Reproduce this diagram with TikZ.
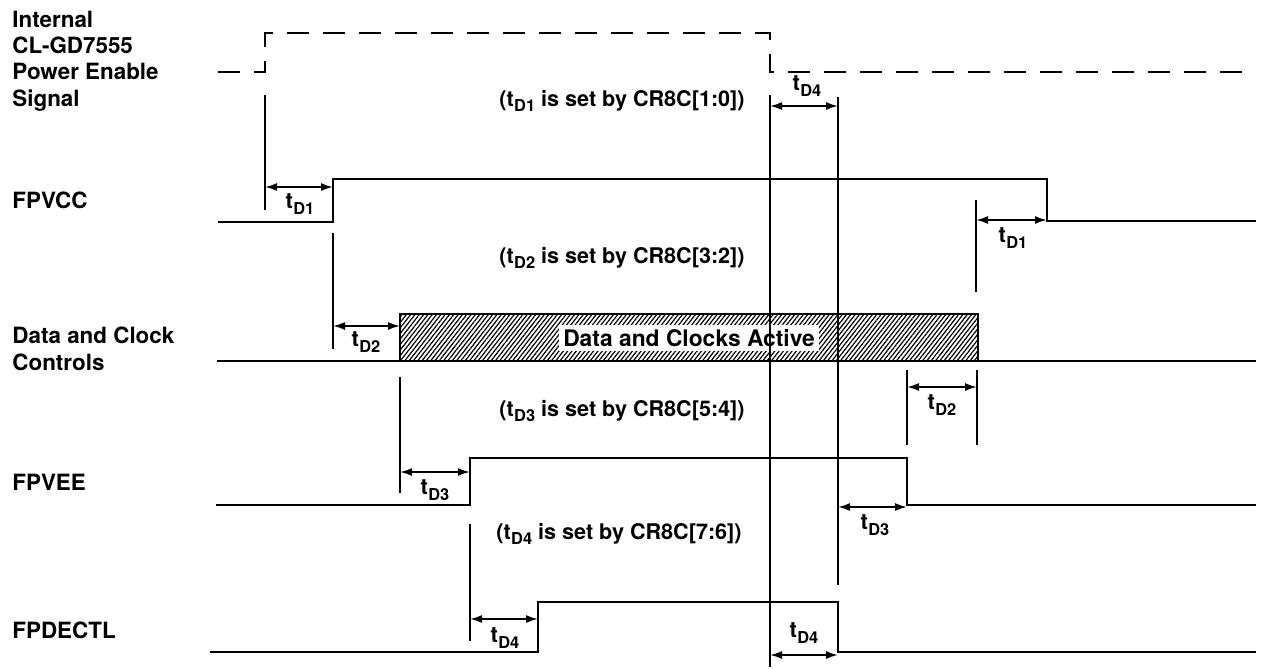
\documentclass[tikz,border=0pt]{standalone}
\usepackage{fontspec}
\setmainfont{TeX Gyre Heros}
\usetikzlibrary{arrows.meta,patterns.meta}
\newcommand{\tdl}[1]{t\kern0.2pt\raisebox{-0.5ex}{\fontsize{8.2}{9}\selectfont D#1}}
\tikzset{
  sig/.style={line width=1.2pt},
  refl/.style={line width=0.75pt},
  dimarrow/.style={line width=0.9pt,{Latex[length=6pt,width=4pt]}-{Latex[length=6pt,width=4pt]}},
  lbl/.style={font=\fontsize{11.2}{13.2}\selectfont\bfseries, align=left, anchor=west, inner sep=0pt},
  note/.style={font=\fontsize{10.8}{12}\selectfont\bfseries, inner sep=0pt},
  tlab/.style={font=\fontsize{11}{12}\selectfont\bfseries, inner sep=0pt},
}
\begin{document}
\begin{tikzpicture}[x=0.5pt,y=-0.5pt]
\useasboundingbox (0,0) rectangle (1262,669);

% signal names
\node[lbl] (nPE) at (12,61) {Internal\\CL-GD7555\\Power Enable\\Signal};
\node[lbl] (nVCC) at (12,200) {FPVCC};
\node[lbl] (nDC) at (12,349) {Data and Clock\\Controls};
\node[lbl] (nVEE) at (12,482) {FPVEE};
\node[lbl] (nDE) at (12,630) {FPDECTL};

% power enable (dashed)
\draw[line width=1.2pt, dash pattern=on 11pt off 7pt]
  (218,72) -- (265,72) -- (265,33) -- (770,33) -- (770,72) -- (1254,72);

% FPVCC
\draw[sig] (218,222) -- (333,222) -- (333,179) -- (1047,179) -- (1047,221) -- (1256,221);

% Data and clocks
\draw[sig, pattern={Lines[angle=52,distance=1.7pt,line width=0.6pt]}]
  (400,361) rectangle (978,314);
\node[tlab, font=\fontsize{11.4}{12}\selectfont\bfseries, fill=white, inner xsep=2pt, inner ysep=2pt] (dca) at (689,338) {Data and Clocks Active};
\draw[sig] (217,361) -- (1256,361);

% FPVEE
\draw[sig] (216,505) -- (470,505) -- (470,458) -- (907,458) -- (907,505) -- (1256,505);

% FPDECTL
\draw[sig] (210,652) -- (538,652) -- (538,602) -- (838,602) -- (838,652) -- (1256,652);

% reference lines
\coordinate (a1) at (265,95);  \coordinate (a2) at (265,210);
\coordinate (b1) at (770,95);  \coordinate (b2) at (770,667);
\coordinate (c1) at (838,97);  \coordinate (c2) at (838,585);
\coordinate (d1) at (976,200); \coordinate (d2) at (976,292);
\coordinate (e1) at (333,233); \coordinate (e2) at (333,349);
\coordinate (f1) at (907,370); \coordinate (f2) at (907,445);
\coordinate (g1) at (977,370); \coordinate (g2) at (977,445);
\coordinate (h1) at (400,377); \coordinate (h2) at (400,493);
\coordinate (i1) at (470,524); \coordinate (i2) at (470,641);
\foreach \p in {a,b,c,d,e,f,g,h,i} \draw[refl] (\p1) -- (\p2);

% dimension arrows
\coordinate (p1) at (265,187);  \coordinate (p2) at (333,187);
\draw[dimarrow] (p1) -- (p2);
\node[tlab] (l1) at (300,204) {\tdl{1}};

\coordinate (q1) at (976,220);  \coordinate (q2) at (1047,220);
\draw[dimarrow] (q1) -- (q2);
\node[tlab] (l2) at (1013,238) {\tdl{1}};

\coordinate (r1) at (333,326);  \coordinate (r2) at (400,326);
\draw[dimarrow] (r1) -- (r2);
\node[tlab] (l3) at (366,342) {\tdl{2}};

\coordinate (s1) at (907,387);  \coordinate (s2) at (977,387);
\draw[dimarrow] (s1) -- (s2);
\node[tlab] (l4) at (942,405) {\tdl{2}};

\coordinate (u1) at (400,472);  \coordinate (u2) at (470,472);
\draw[dimarrow] (u1) -- (u2);
\node[tlab] (l5) at (435,490) {\tdl{3}};

\coordinate (v1) at (838,507);  \coordinate (v2) at (907,507);
\draw[dimarrow] (v1) -- (v2);
\node[tlab] (l6) at (875,525) {\tdl{3}};

\coordinate (w1) at (470,619);  \coordinate (w2) at (538,619);
\draw[dimarrow] (w1) -- (w2);
\node[tlab] (l7) at (505,638) {\tdl{4}};

\coordinate (x1) at (770,655);  \coordinate (x2) at (838,655);
\draw[dimarrow] (x1) -- (x2);
\node[tlab] (l8) at (804,633) {\tdl{4}};

\coordinate (y1) at (770,106);  \coordinate (y2) at (838,106);
\draw[dimarrow] (y1) -- (y2);
\node[tlab] (l9) at (807,86) {\tdl{4}};

% notes
\node[note] (n1) at (622,101) {(\tdl{1} is set by CR8C[1:0])};
\node[note] (n2) at (622,258) {(\tdl{2} is set by CR8C[3:2])};
\node[note] (n3) at (622,411) {(\tdl{3} is set by CR8C[5:4])};
\node[note] (n4) at (619,534) {(\tdl{4} is set by CR8C[7:6])};
\end{tikzpicture}
\end{document}
